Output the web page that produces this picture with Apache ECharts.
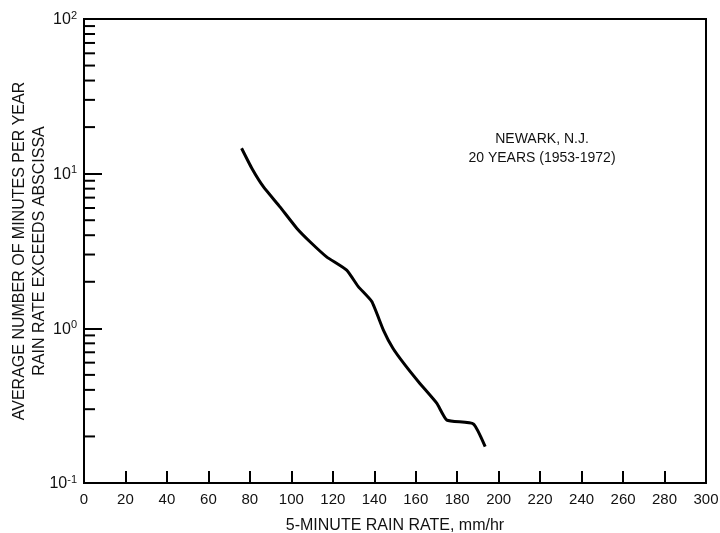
<!DOCTYPE html>
<html>
<head>
<meta charset="utf-8">
<script src="https://cdn.jsdelivr.net/npm/echarts@6/dist/echarts.min.js"></script>
<style>
html,body{margin:0;padding:0;background:#fff;}
#chart{width:720px;height:533px;}
</style>
</head>
<body>
<div id="chart"></div>
<script>
// Rain rate (mm/hr) and average minutes per year exceeding it
const rainRate = [76, 81, 86.5, 94.5, 102.6, 109, 117, 126.7, 132.3, 138.8, 144.4, 149, 154.8, 162, 170.2, 175, 187.8, 193.5];
const minutesPerYear = [14.6, 10.8, 8.24, 6.1, 4.44, 3.63, 2.9, 2.38, 1.86, 1.49, 0.975, 0.743, 0.58, 0.44, 0.327, 0.255, 0.241, 0.172];
// Minor tick values on the log axis
const minorTickValues = [];
[0.1, 1, 10].forEach(function (d) { for (let k = 2; k <= 9; k++) minorTickValues.push(+(k * d).toPrecision(3)); });
const annotationLines = ['NEWARK, N.J.', '20 YEARS (1953-1972)'];

const FONT = '"Liberation Sans", Arial, Helvetica, sans-serif';
const INK = '#111';
const chart = echarts.init(document.getElementById('chart'));
const option = {
  backgroundColor: '#fff',
  animation: false,
  grid: { left: 84, right: 14, top: 19, bottom: 50, outerBoundsMode: 'none', containLabel: false, show: true, borderColor: '#000', borderWidth: 2, backgroundColor: 'transparent' },
  xAxis: {
    type: 'value', min: 0, max: 300, interval: 20,
    name: '5-MINUTE RAIN RATE, mm/hr', nameLocation: 'middle', nameGap: 35,
    nameTextStyle: { color: INK, fontSize: 16, fontFamily: FONT },
    axisLine: { show: true, lineStyle: { color: '#000', width: 2 } },
    axisTick: { show: true, inside: true, length: 12, lineStyle: { color: '#000', width: 2 } },
    axisLabel: { color: INK, fontSize: 15, fontFamily: FONT, margin: 9 },
    splitLine: { show: false }
  },
  yAxis: {
    type: 'log', logBase: 10, min: 0.1, max: 100,
    name: 'AVERAGE NUMBER OF MINUTES PER YEAR\nRAIN RATE EXCEEDS ABSCISSA',
    nameLocation: 'middle', nameGap: 34, nameRotate: 90, nameMoveOverlap: false,
    nameTextStyle: { color: INK, fontSize: 16, fontFamily: FONT, lineHeight: 20, align: 'center' },
    axisLine: { show: true, lineStyle: { color: '#000', width: 2 } },
    axisTick: { show: true, inside: true, length: 18, lineStyle: { color: '#000', width: 2 } },
    axisLabel: {
      margin: 7,
      formatter: function (v) {
        const e = Math.round(Math.log10(v));
        return '{b|10}{s|' + e + '}';
      },
      rich: {
        b: { color: INK, fontSize: 16, fontFamily: FONT, lineHeight: 18, verticalAlign: 'bottom' },
        s: { color: INK, fontSize: 11, fontFamily: FONT, lineHeight: 18, verticalAlign: 'top' }
      }
    },
    splitLine: { show: false },
    minorTick: { show: false }
  },
  series: [
    {
      type: 'custom',
      clip: false,
      silent: true,
      data: minorTickValues.map(function (v) { return [0, v]; }),
      renderItem: function (params, api) {
        const p = api.coord([api.value(0), api.value(1)]);
        return { type: 'line', shape: { x1: p[0], y1: p[1], x2: p[0] + 11, y2: p[1] }, style: { stroke: '#000', lineWidth: 2 } };
      },
      z: 3
    },
    {
      type: 'line',
      data: rainRate.map(function (x, i) { return [x, minutesPerYear[i]]; }),
      smooth: 0.15,
      showSymbol: false,
      lineStyle: { color: '#000', width: 3 },
      z: 4
    }
  ],
  graphic: [
    { type: 'text', x: 542, y: 130, style: { text: annotationLines[0] + '\n' + annotationLines[1], align: 'center', fill: INK, fontSize: 14, fontFamily: FONT, lineHeight: 19 }, z: 10 }
  ]
};
chart.setOption(option);
</script>
</body>
</html>
